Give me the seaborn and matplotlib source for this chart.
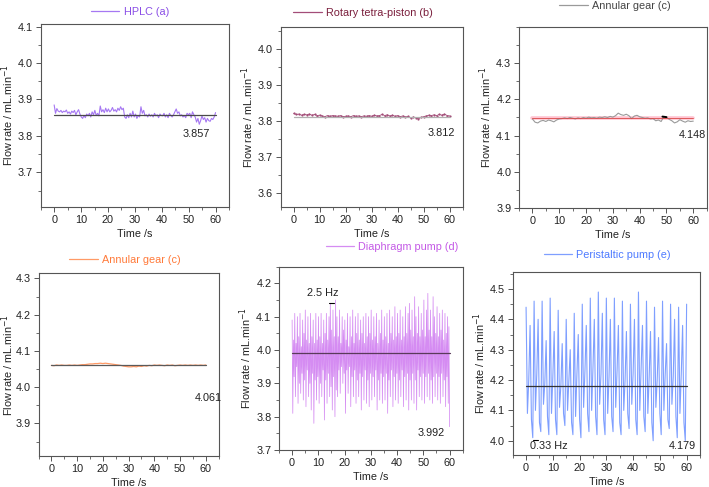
import numpy as np
import pandas as pd
import matplotlib
matplotlib.use("Agg")
import matplotlib.pyplot as plt
from matplotlib.ticker import MultipleLocator
import seaborn as sns

# ---------------- data ----------------
hplc = [3.885, 3.862, 3.875, 3.868, 3.866, 3.870, 3.864, 3.868, 3.866, 3.871, 3.862,
        3.866, 3.860, 3.868, 3.864, 3.870, 3.858, 3.866, 3.872, 3.860,
        3.852, 3.848, 3.856, 3.850, 3.860, 3.855, 3.862, 3.852, 3.866, 3.858,
        3.870, 3.856, 3.862, 3.855, 3.882, 3.866, 3.872, 3.864, 3.876, 3.866,
        3.874, 3.866, 3.870, 3.878, 3.868, 3.872, 3.866, 3.876, 3.870, 3.880,
        3.872, 3.876, 3.852, 3.848, 3.858, 3.850, 3.862, 3.852, 3.868, 3.852,
        3.860, 3.848, 3.856, 3.852, 3.880, 3.862, 3.870, 3.855, 3.858, 3.852,
        3.860, 3.854, 3.858, 3.852, 3.862, 3.855, 3.858, 3.850, 3.860, 3.856,
        3.855, 3.862, 3.852, 3.858, 3.850, 3.862, 3.856, 3.852, 3.858, 3.866,
        3.874, 3.862, 3.866, 3.855, 3.858, 3.852, 3.856, 3.850, 3.862, 3.858,
        3.862, 3.850, 3.866, 3.858, 3.852, 3.838, 3.848, 3.832, 3.842, 3.855,
        3.845, 3.850, 3.838, 3.848, 3.842, 3.840, 3.848, 3.845, 3.852, 3.864]

rotary = [3.821, 3.818, 3.819, 3.816, 3.818, 3.817, 3.819, 3.816, 3.818, 3.815, 3.816,
          3.814, 3.812, 3.815, 3.813, 3.815, 3.814, 3.813, 3.815, 3.812, 3.813,
          3.814, 3.812, 3.815, 3.813, 3.814, 3.812, 3.814, 3.813, 3.815, 3.813,
          3.816, 3.814, 3.815, 3.818, 3.815, 3.817, 3.814, 3.816, 3.813, 3.815,
          3.812, 3.814, 3.811, 3.813, 3.808, 3.811, 3.809, 3.806, 3.810, 3.812,
          3.814, 3.816, 3.815, 3.817, 3.815, 3.818, 3.816, 3.819, 3.815, 3.814]

gear_c1 = [4.146, 4.137, 4.135, 4.140, 4.142, 4.139, 4.143, 4.141, 4.138, 4.143, 4.146,
           4.147, 4.149, 4.147, 4.150, 4.148, 4.146, 4.149, 4.147, 4.150, 4.148,
           4.151, 4.149, 4.150, 4.148, 4.151, 4.150, 4.152, 4.150, 4.153, 4.151,
           4.155, 4.162, 4.158, 4.156, 4.159, 4.155, 4.147, 4.154, 4.156, 4.152,
           4.150, 4.148, 4.149, 4.146, 4.147, 4.141, 4.143, 4.139, 4.152, 4.150,
           4.145, 4.141, 4.135, 4.138, 4.144, 4.140, 4.137, 4.141, 4.139, 4.140]

gear_c2 = [4.060, 4.059, 4.061, 4.060, 4.061, 4.060, 4.060, 4.061, 4.060, 4.061, 4.060,
           4.061, 4.062, 4.062, 4.063, 4.064, 4.064, 4.065, 4.065, 4.066, 4.065,
           4.066, 4.065, 4.064, 4.063, 4.062, 4.061, 4.060, 4.058, 4.057, 4.056,
           4.056, 4.057, 4.056, 4.058, 4.057, 4.059, 4.058, 4.060, 4.059, 4.061,
           4.060, 4.061, 4.060, 4.059, 4.061, 4.060, 4.061, 4.059, 4.060, 4.061,
           4.060, 4.061, 4.060, 4.061, 4.060, 4.061, 4.060, 4.061, 4.060, 4.061]

diaphragm = [4.09, 3.81, 4.03, 3.92, 4.11, 3.86, 4.02, 3.95, 4.10, 3.84, 4.04, 3.90, 4.11, 3.87, 4.01, 3.93, 4.09, 3.85, 4.05, 3.91,
             4.12, 3.83, 4.03, 3.94, 4.10, 3.86, 4.02, 3.90, 4.11, 3.82, 4.04, 3.93, 4.09, 3.78, 4.02, 3.91, 4.11, 3.85, 4.03, 3.92,
             4.10, 3.84, 4.04, 3.90, 4.11, 3.86, 4.02, 3.94, 4.09, 3.79, 4.05, 3.91, 4.11, 3.84, 4.03, 3.93, 4.10, 3.86, 4.14, 3.89,
             4.06, 3.82, 4.12, 3.92, 4.04, 3.80, 4.15, 3.88, 4.10, 3.86, 4.04, 3.94, 4.12, 3.87, 4.02, 3.95, 4.10, 3.90, 4.06, 3.93,
             4.09, 3.81, 4.03, 3.94, 4.11, 3.87, 4.01, 3.95, 4.10, 3.83, 4.04, 3.92, 4.12, 3.86, 4.02, 3.94, 4.10, 3.84, 4.05, 3.91,
             4.11, 3.86, 4.03, 3.93, 4.09, 3.82, 4.05, 3.92, 4.10, 3.85, 4.02, 3.94, 4.11, 3.84, 4.04, 3.91, 4.10, 3.83, 4.05, 3.93,
             4.12, 3.85, 4.03, 3.92, 4.10, 3.86, 4.04, 3.94, 4.11, 3.82, 4.02, 3.91, 4.09, 3.85, 4.05, 3.93, 4.12, 3.84, 4.03, 3.92,
             4.10, 3.85, 4.04, 3.93, 4.11, 3.81, 4.02, 3.91, 4.12, 3.86, 4.05, 3.94, 4.10, 3.83, 4.03, 3.92, 4.13, 3.85, 4.04, 3.93,
             4.11, 3.84, 4.05, 3.91, 4.12, 3.86, 4.03, 3.94, 4.10, 3.83, 4.04, 3.92, 4.13, 3.85, 4.05, 3.93, 4.11, 3.82, 4.14, 3.91,
             4.06, 3.85, 4.12, 3.93, 4.04, 3.84, 4.16, 3.91, 4.10, 3.82, 4.05, 3.94, 4.13, 3.86, 4.04, 3.92, 4.11, 3.85, 4.06, 3.93,
             4.15, 3.84, 4.04, 3.92, 4.12, 3.86, 4.17, 3.93, 4.06, 3.85, 4.12, 3.91, 4.04, 3.84, 4.16, 3.92, 4.10, 3.86, 4.05, 3.93,
             4.13, 3.85, 4.04, 3.92, 4.11, 3.84, 4.06, 3.93, 4.12, 3.86, 4.03, 3.91, 4.11, 3.83, 4.05, 3.92, 4.10, 3.84, 4.07, 3.77]

peristaltic = [4.44, 4.09, 4.20, 4.38, 4.07, 4.01,
               4.46, 4.10, 4.22, 4.40, 4.06, 4.03,
               4.46, 4.12, 4.19, 4.33, 4.08, 4.02,
               4.47, 4.09, 4.21, 4.36, 4.07, 4.02,
               4.43, 4.11, 4.18, 4.32, 4.09, 4.05,
               4.40, 4.10, 4.20, 4.30, 4.06, 4.02,
               4.42, 4.08, 4.22, 4.35, 4.07, 4.01,
               4.45, 4.11, 4.23, 4.38, 4.09, 4.03,
               4.47, 4.10, 4.24, 4.40, 4.08, 4.02,
               4.49, 4.12, 4.22, 4.42, 4.07, 4.02,
               4.47, 4.09, 4.21, 4.40, 4.08, 4.03,
               4.47, 4.11, 4.23, 4.38, 4.06, 4.02,
               4.46, 4.10, 4.20, 4.36, 4.09, 4.04,
               4.45, 4.12, 4.22, 4.40, 4.07, 4.02,
               4.49, 4.10, 4.24, 4.38, 4.08, 4.03,
               4.46, 4.09, 4.21, 4.36, 4.06, 4.00,
               4.44, 4.11, 4.20, 4.34, 4.09, 4.02,
               4.46, 4.10, 4.22, 4.32, 4.07, 4.04,
               4.45, 4.12, 4.21, 4.40, 4.08, 4.01,
               4.44, 4.09, 4.22, 4.38, 4.06, 4.00,
               4.45]

labels = ["HPLC (a)", "Rotary tetra-piston (b)", "Annular gear (c)",
          "Annular gear (c)", "Diaphragm pump (d)", "Peristaltic pump (e)"]
means = [3.857, 3.812, 4.148, 4.061, 3.992, 4.179]
mean_text = ["3.857", "3.812", "4.148", "4.061", "3.992", "4.179"]
series = [hplc, rotary, gear_c1, gear_c2, diaphragm, peristaltic]

# ---------------- style ----------------
sns.set_theme(style="ticks")
plt.rcParams["font.family"] = ["Liberation Sans", "DejaVu Sans"]
plt.rcParams["axes.edgecolor"] = "#555555"
plt.rcParams["xtick.color"] = "#555555"
plt.rcParams["ytick.color"] = "#555555"

FS = 7.8
W, H = 709, 487
fig = plt.figure(figsize=(W / 100, H / 100), dpi=100)

# axes boxes in pixels: left, top, right, bottom
boxes = [(40.7, 24, 229, 207), (280.7, 27, 462.7, 207), (519, 27, 706.7, 208),
         (38.5, 273.3, 218.7, 456), (279, 266.7, 462.7, 450), (512.7, 271.7, 700, 455.3)]
ylims = [(3.605, 4.107), (3.562, 4.06), (3.9, 4.4), (3.81, 4.314), (3.7, 4.25), (3.952, 4.557)]
yticks = [[3.7, 3.8, 3.9, 4.0, 4.1], [3.6, 3.7, 3.8, 3.9, 4.0], [3.9, 4.0, 4.1, 4.2, 4.3],
          [3.9, 4.0, 4.1, 4.2, 4.3], [3.7, 3.8, 3.9, 4.0, 4.1, 4.2], [4.0, 4.1, 4.2, 4.3, 4.4, 4.5]]
line_colors = ["#a678f2", "#a34d78", "#9a9a9a", "#ff9a66", "#d58cf2", "#7f9fff"]
text_colors = ["#8a4ee6", "#7a1e3c", "#444444", "#ff7a3a", "#c45ae6", "#4d7aff"]
mean_colors = ["#4a4a4a", "#b0b0b0", "#d84848", "#5a5a5a", "#5a3a5a", "#333333"]
legend_centers = [(130, 12), (363, 13), (615, 6), (125, 260), (392, 247), (607, 255)]
text_pos = [(53, 3.806), (56.7, 3.7675), (59.7, 4.1006), (61, 3.969), (52.9, 3.75), (58.4, 3.982)]
markers = [None, "o", None, None, None, None]
lws = [0.8, 0.6, 0.8, 0.9, 0.55, 0.8]
mean_lws = [0.9, 0.9, 0.6, 0.9, 0.9, 0.9]
ylabel_pads = [1.5, 1.5, 1.5, 0.0, 1.5, 1.5]

for i in range(6):
    l, t, r, b = boxes[i]
    ax = fig.add_axes([l / W, 1 - b / H, (r - l) / W, (b - t) / H])
    y = series[i]
    x = np.linspace(0, 60, len(y))
    df = pd.DataFrame({"Time": x, "Flow": y})
    if i == 2:
        ax.plot([0, 60], [means[i], means[i]], color="#ffc4d2", lw=2.6, zorder=1)
    sns.lineplot(data=df, x="Time", y="Flow", ax=ax, color=line_colors[i], lw=lws[i],
                 marker=markers[i], markersize=1.6, markeredgewidth=0, errorbar=None,
                 sort=False, label=labels[i], zorder=2)
    ax.plot([0, 60], [means[i], means[i]], color=mean_colors[i], lw=mean_lws[i], zorder=3)
    ax.set_xlim(-5, 65)
    ax.set_ylim(*ylims[i])
    ax.set_xticks([0, 10, 20, 30, 40, 50, 60])
    ax.xaxis.set_minor_locator(MultipleLocator(5))
    ax.set_yticks(yticks[i])
    ax.yaxis.set_minor_locator(MultipleLocator(0.05))
    ax.tick_params(which="major", direction="out", length=3.5, width=0.7,
                   labelsize=FS, labelcolor="#222222", pad=2)
    ax.tick_params(which="minor", direction="out", length=2, width=0.6)
    for s in ax.spines.values():
        s.set_visible(True)
        s.set_linewidth(0.8)
    ax.set_xlabel("Time /s", fontsize=FS, color="#222222", labelpad=3)
    ax.set_ylabel("Flow rate / mL.min$^{-1}$", fontsize=FS, color="#222222",
                  labelpad=ylabel_pads[i])
    ax.text(text_pos[i][0], text_pos[i][1], mean_text[i], fontsize=FS,
            color="#222222", ha="center", va="center")
    cx, cy = legend_centers[i]
    leg = ax.legend(loc="center", bbox_to_anchor=(cx / W, 1 - cy / H),
                    bbox_transform=fig.transFigure, frameon=False, fontsize=FS,
                    handlelength=2.6, handletextpad=0.4, borderpad=0, labelcolor=text_colors[i])
    for h in leg.get_lines():
        h.set_marker("")
        h.set_linewidth(0.9)
    if i == 2:
        ax.plot([48.5, 50], [4.1525, 4.151], color="black", lw=1.4)
    if i == 4:
        ax.text(11.5, 4.17, "2.5 Hz", fontsize=FS, color="#222222", ha="center", va="center")
        ax.plot([14.2, 15.8], [4.142, 4.142], color="black", lw=0.8)
    if i == 5:
        ax.text(8.5, 3.982, "0.33 Hz", fontsize=FS, color="#222222", ha="center", va="center")
        ax.plot([2.5, 4.3], [4.003, 4.003], color="black", lw=0.8)

fig.savefig("out.png", dpi=100)
